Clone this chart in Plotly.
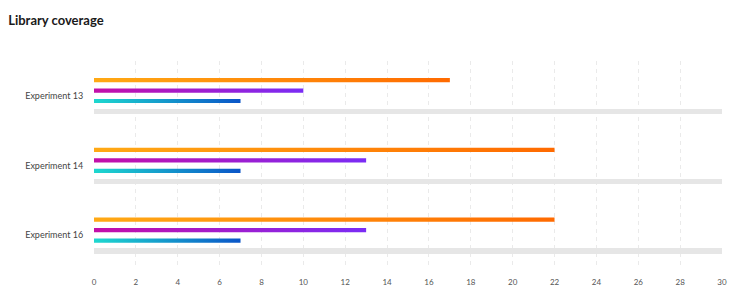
import plotly.graph_objects as go

# Library coverage per experiment
experiments = ["Experiment 13", "Experiment 14", "Experiment 16"]
series_a = [17, 22, 22]   # orange
series_b = [10, 13, 13]   # purple
series_c = [7, 7, 7]      # teal/blue
total = [30, 30, 30]      # grey track
x_ticks = list(range(0, 31, 2))

# (values, gradient start, gradient end, offset within group, half thickness)
series_specs = [
    (series_a, "#FFA914", "#FF6A00", -0.224, 0.030),
    (series_b, "#C40EA8", "#7A2CF5", -0.074, 0.030),
    (series_c, "#1ED8CF", "#0A55C8", 0.076, 0.030),
]

fig = go.Figure()

# grey full-length tracks
fig.add_trace(go.Bar(
    x=total,
    y=[i + 0.224 for i in range(len(experiments))],
    orientation="h",
    width=0.075,
    marker=dict(color="#E6E6E6", line=dict(width=0)),
    hoverinfo="skip",
    showlegend=False,
))

# gradient bars drawn as filled rectangles
for vals, c0, c1, off, half in series_specs:
    for i, v in enumerate(vals):
        yc = i + off
        fig.add_trace(go.Scatter(
            x=[0, v, v, 0, 0],
            y=[yc - half, yc - half, yc + half, yc + half, yc - half],
            mode="lines",
            line=dict(width=0.6, color="rgba(0,0,0,0)"),
            fill="toself",
            fillgradient=dict(type="horizontal",
                              colorscale=[[0, c0], [1, c1]]),
            hoverinfo="skip",
            showlegend=False,
        ))

fig.update_layout(
    width=745,
    height=287,
    margin=dict(l=94, r=23, t=61, b=19),
    paper_bgcolor="white",
    plot_bgcolor="white",
    font=dict(family="Lato, 'Noto Sans', sans-serif", color="#444444", size=9),
    title=dict(
        text="<b>Library coverage</b>",
        x=0.011, xanchor="left",
        y=0.928, yanchor="middle",
        font=dict(family="Lato, sans-serif", size=13, color="#1a1a1a"),
    ),
    bargap=0,
)

fig.update_xaxes(
    range=[0, 30],
    tickvals=x_ticks,
    ticktext=[str(t) for t in x_ticks],
    showgrid=True,
    gridcolor="#EAEAEA",
    griddash="4px,4px",
    gridwidth=1,
    zeroline=False,
    showline=False,
    ticks="",
    ticklabelstandoff=8,
    automargin=False,
    tickfont=dict(size=8, color="#555555"),
    fixedrange=True,
)

fig.update_yaxes(
    range=[2.468, -0.497],
    tickvals=list(range(len(experiments))),
    ticktext=experiments,
    showgrid=False,
    zeroline=False,
    showline=False,
    ticks="outside",
    ticklen=8,
    tickcolor="rgba(0,0,0,0)",
    automargin=False,
    tickfont=dict(size=9, color="#444444"),
    fixedrange=True,
)

fig.write_html("out.html")
